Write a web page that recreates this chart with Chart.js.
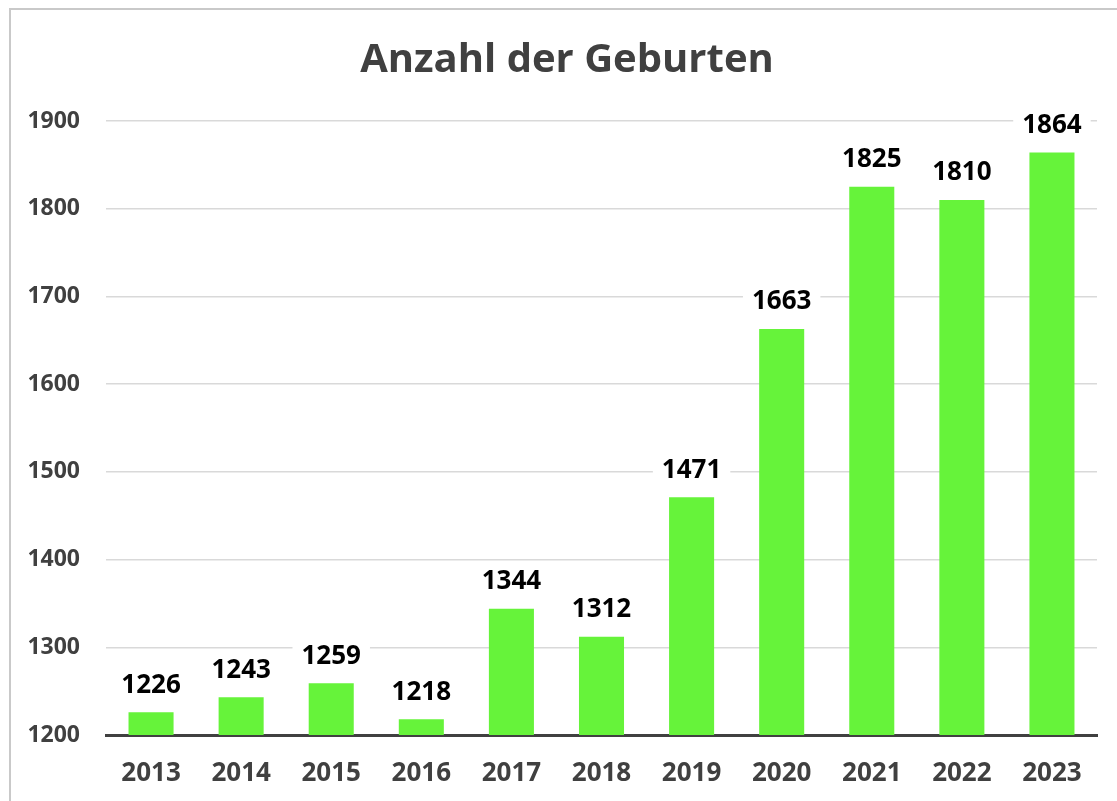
<!DOCTYPE html>
<html>
<head>
<meta charset="utf-8">
<script src="https://cdn.jsdelivr.net/npm/chart.js@4"></script>
<style>
  html, body { margin: 0; padding: 0; background: #fff; }
  #wrap { position: relative; width: 1117px; height: 801px; overflow: hidden; }
  #frame { position: absolute; left: 9px; top: 8px; width: 1200px; height: 900px; border: 2px solid #c9c9c9; box-sizing: border-box; }
  #c { position: absolute; left: 0; top: 0; }
</style>
</head>
<body>
<div id="wrap">
  <div id="frame"></div>
  <canvas id="c" width="1117" height="801"></canvas>
</div>
<script>
const years = ['2013', '2014', '2015', '2016', '2017', '2018', '2019', '2020', '2021', '2022', '2023'];
const births = [1226, 1243, 1259, 1218, 1344, 1312, 1471, 1663, 1825, 1810, 1864];
const yMin = 1200;
const yMax = 1900;
const yStep = 100;
const titleText = 'Anzahl der Geburten';

const FONT = "'Open Sans', 'DejaVu Sans', sans-serif";
const GREY = '#404040';

// title sits a bit right of the canvas centre, like the frame it belongs to
const chartTitle = {
  id: 'chartTitle',
  afterDraw(chart) {
    const ctx = chart.ctx;
    ctx.save();
    ctx.font = `bold 40px ${FONT}`;
    ctx.fillStyle = GREY;
    ctx.textAlign = 'center';
    ctx.textBaseline = 'middle';
    ctx.fillText(titleText, 567, 61);
    ctx.restore();
  }
};

// value labels above bars, on a white box that hides the grid line behind
const barLabels = {
  id: 'barLabels',
  afterDatasetsDraw(chart) {
    const ctx = chart.ctx;
    const meta = chart.getDatasetMeta(0);
    ctx.save();
    ctx.font = `bold 26px ${FONT}`;
    ctx.textAlign = 'center';
    ctx.textBaseline = 'middle';
    meta.data.forEach((bar, i) => {
      const txt = String(births[i]);
      const w = ctx.measureText(txt).width + 18;
      const cy = bar.y - 28;
      ctx.fillStyle = '#fff';
      ctx.fillRect(bar.x - w / 2, cy - 17, w, 34);
      ctx.fillStyle = '#000';
      ctx.fillText(txt, bar.x, cy + 1);
    });
    ctx.restore();
  }
};

new Chart(document.getElementById('c'), {
  type: 'bar',
  data: {
    labels: years,
    datasets: [{
      data: births,
      backgroundColor: '#66F33A',
      barPercentage: 0.5,
      categoryPercentage: 1,
    }],
  },
  options: {
    responsive: false,
    animation: false,
    layout: { padding: { left: 0, right: 20, top: 121, bottom: 0 } },
    plugins: {
      legend: { display: false },
      tooltip: { enabled: false },
      title: { display: false },
    },
    scales: {
      x: {
        grid: { display: false, drawTicks: false },
        border: { display: true, color: GREY, width: 3 },
        ticks: { color: GREY, font: { family: FONT, size: 26, weight: 'bold' }, padding: 23 },
        afterFit(s) { s.height = 66; },
      },
      y: {
        min: yMin,
        max: yMax,
        grid: { color: '#d9d9d9', lineWidth: 1.5, drawTicks: false },
        border: { display: false },
        ticks: {
          stepSize: yStep,
          color: GREY,
          font: { family: FONT, size: 23, weight: 'bold' },
          padding: 26,
          callback: v => String(v),
        },
        afterFit(s) { s.width = 106; },
      },
    },
  },
  plugins: [barLabels, chartTitle],
});
</script>
</body>
</html>
